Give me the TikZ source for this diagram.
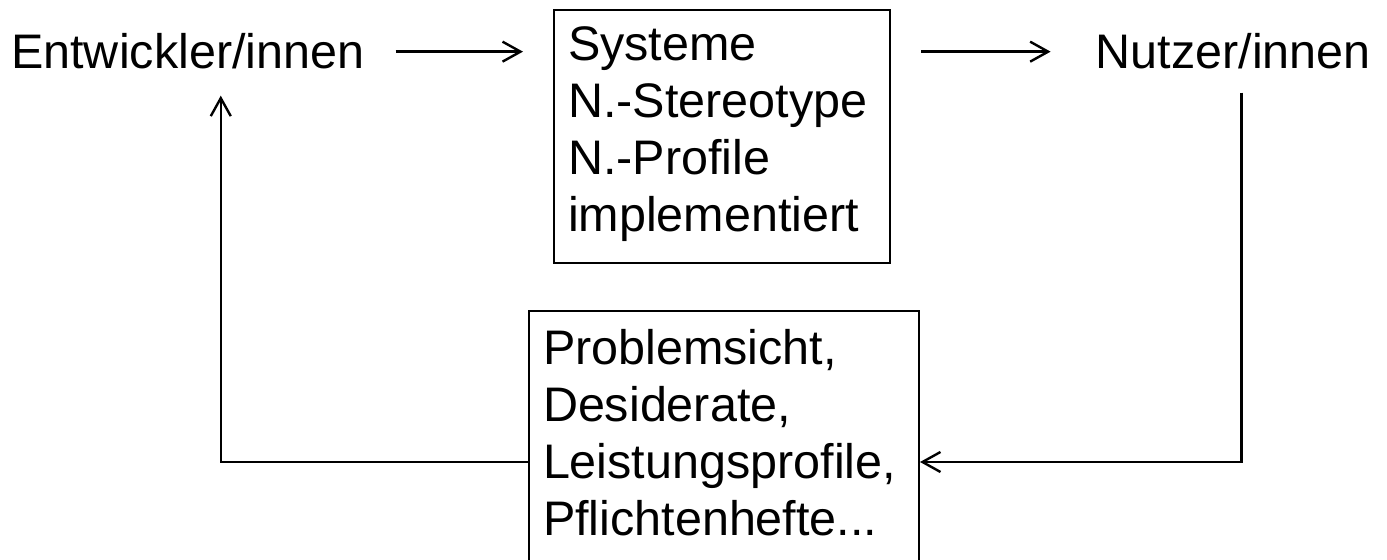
\documentclass[tikz,border=0pt]{standalone}
\usepackage{fontspec}
\setmainfont{Liberation Sans}
\usetikzlibrary{arrows.meta,positioning}

\begin{document}
\begin{tikzpicture}[x=0.5pt,y=-0.5pt,
    font=\fontsize{24.25}{28.5}\selectfont,
    line width=1.2pt,
    actor/.style={inner sep=0pt},
    box/.style={draw,line width=1pt,align=left,inner xsep=7pt,inner ysep=0pt,anchor=north west},
    link/.style={-{Straight Barb[length=9pt,width=10pt]}}]
  \useasboundingbox (0,0) rectangle (1387,560);
  \node[actor,anchor=base west] (dev) at (10,69) {Entwickler/innen};
  \node[actor,anchor=base east] (usr) at (1372,69) {Nutzer/innen};
  \node[box,text width=154pt,text height=25.5pt,text depth=101pt] (sys) at (553,9)
    {Systeme\\N.-Stereotype\\N.-Profile\\implementiert};
  \node[box,text width=181pt,text height=27pt,text depth=115pt] (req) at (528,310)
    {Problemsicht,\\Desiderate,\\Leistungsprofile,\\Pflichtenhefte...};
  \coordinate (back) at (0,462);
  % forward flow
  \draw[link,shorten <=15pt,shorten >=15pt] (dev.east) -- (dev.east -| sys.west);
  \draw[link,shorten <=15pt,shorten >=22pt] (sys.east |- usr.west) -- (usr.west);
  % feedback loop
  \draw[link,shorten <=11pt] ([xshift=4pt]usr.south) |- (req.east |- back);
  \draw[link,shorten >=12.5pt] (req.west |- back) -| ([xshift=16.5pt]dev.south);
\end{tikzpicture}
\end{document}
